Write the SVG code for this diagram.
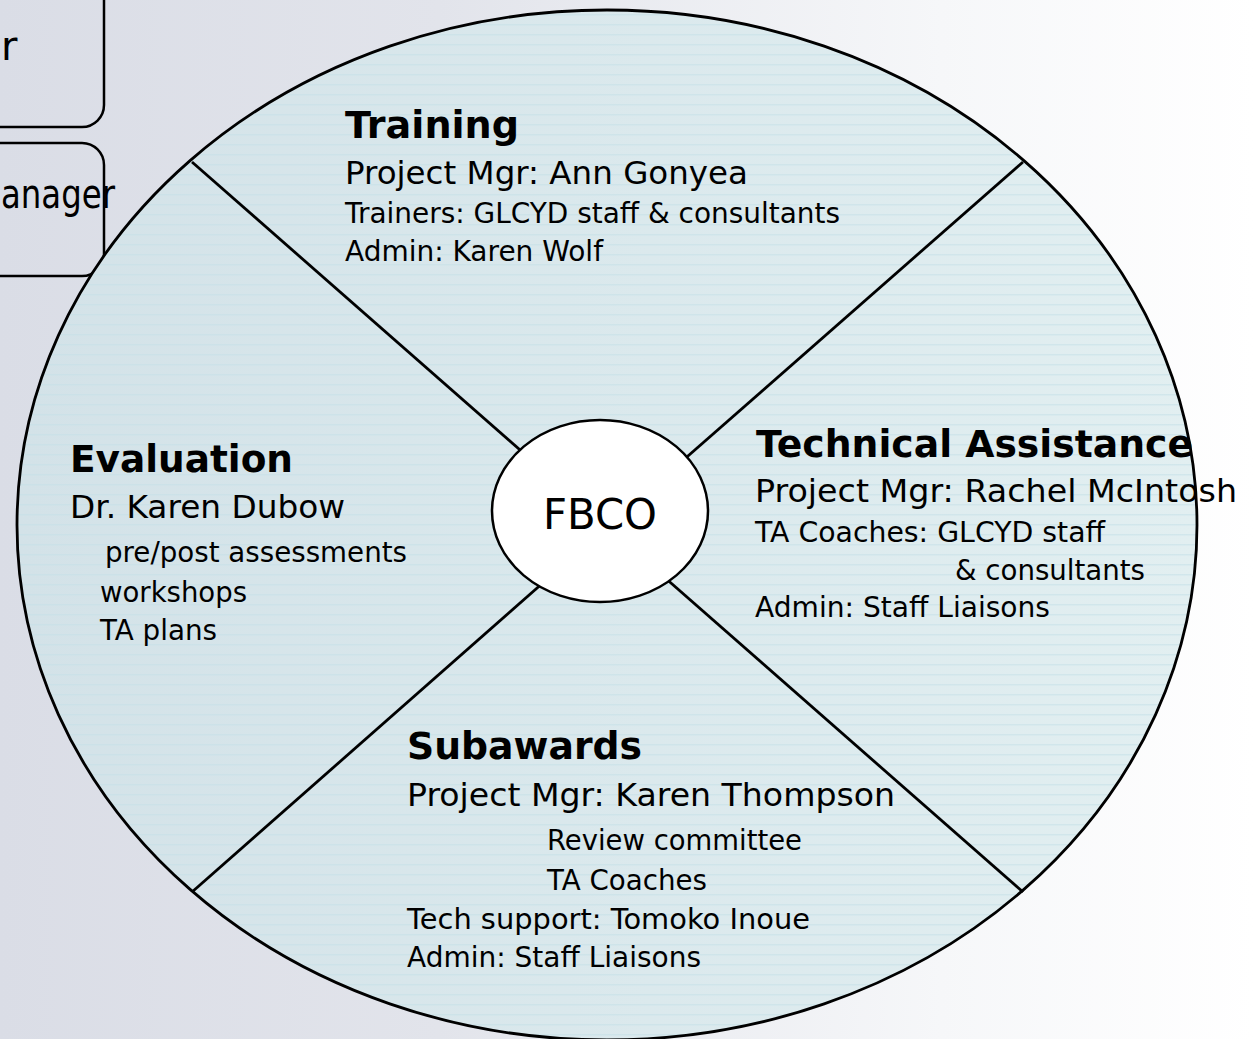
<svg xmlns="http://www.w3.org/2000/svg" width="1254" height="1039" viewBox="0 0 1254 1039">
  <defs>
    <linearGradient id="bg" x1="0" y1="0" x2="1" y2="0">
      <stop offset="0" stop-color="#dadde6"/>
      <stop offset="0.35" stop-color="#e2e4eb"/>
      <stop offset="0.75" stop-color="#f6f7f9"/>
      <stop offset="1" stop-color="#ffffff"/>
    </linearGradient>
    <linearGradient id="disc" x1="0" y1="0" x2="1" y2="0">
      <stop offset="0" stop-color="#d3e2e8"/>
      <stop offset="1" stop-color="#e2eff1"/>
    </linearGradient>
    <pattern id="stripes" x="0" y="0" width="20" height="10" patternUnits="userSpaceOnUse">
      <rect x="0" y="4" width="20" height="1.5" fill="#c4dfe6" fill-opacity="0.55"/>
    </pattern>
    <style>
      .t { font-family: "DejaVu Sans", "Liberation Sans", sans-serif; fill: #000; }
      .h { font-weight: bold; font-size: 37px; }
      .m { font-size: 32px; }
      .s { font-size: 27.5px; }
      .ln { stroke: #000; stroke-width: 2.8; fill: none; }
      .box { fill: none; stroke: #000; stroke-width: 2.5; }
    </style>
  </defs>

  <rect x="0" y="0" width="1254" height="1039" fill="url(#bg)"/>

  <g id="box-top">
    <rect class="box" x="-60" y="-40" width="164" height="167" rx="22" ry="22"/>
    <text class="t" x="1" y="60" font-size="40">r</text>
  </g>
  <g id="box-manager">
    <rect class="box" x="-60" y="143" width="164" height="133" rx="22" ry="22"/>
    <text class="t" x="1" y="208" font-size="40" textLength="114" lengthAdjust="spacingAndGlyphs">anager</text>
  </g>

  <g id="disc-outer">
    <ellipse cx="607" cy="525" rx="590" ry="515" fill="url(#disc)"/>
    <ellipse cx="607" cy="525" rx="590" ry="515" fill="url(#stripes)"/>
    <ellipse class="ln" cx="607" cy="525" rx="590" ry="515" stroke-width="3"/>
  </g>

  <g id="connectors">
    <line class="ln" x1="192" y1="162" x2="535" y2="463"/>
    <line class="ln" x1="1023" y1="162" x2="672" y2="470"/>
    <line class="ln" x1="192" y1="892" x2="553" y2="574"/>
    <line class="ln" x1="1023" y1="892" x2="655" y2="569"/>
  </g>

  <g id="fbco">
    <ellipse cx="600" cy="511" rx="108" ry="91" fill="#ffffff" stroke="#000" stroke-width="2.5"/>
    <text class="t" x="543" y="529" font-size="43" textLength="114" lengthAdjust="spacingAndGlyphs">FBCO</text>
  </g>

  <g id="training">
    <text class="t h" x="345" y="138" textLength="174" lengthAdjust="spacingAndGlyphs">Training</text>
    <text class="t m" x="345" y="184" textLength="403" lengthAdjust="spacingAndGlyphs">Project Mgr: Ann Gonyea</text>
    <text class="t s" x="345" y="223" textLength="495" lengthAdjust="spacingAndGlyphs">Trainers: GLCYD staff &amp; consultants</text>
    <text class="t s" x="345" y="261" textLength="258" lengthAdjust="spacingAndGlyphs">Admin: Karen Wolf</text>
  </g>

  <g id="evaluation">
    <text class="t h" x="70" y="472" textLength="223" lengthAdjust="spacingAndGlyphs">Evaluation</text>
    <text class="t m" x="70" y="518" textLength="275" lengthAdjust="spacingAndGlyphs">Dr. Karen Dubow</text>
    <text class="t s" x="105" y="562" textLength="302" lengthAdjust="spacingAndGlyphs">pre/post assessments</text>
    <text class="t s" x="100" y="602" textLength="147" lengthAdjust="spacingAndGlyphs">workshops</text>
    <text class="t s" x="100" y="640" textLength="117" lengthAdjust="spacingAndGlyphs">TA plans</text>
  </g>

  <g id="technical-assistance">
    <text class="t h" x="756" y="457" textLength="437" lengthAdjust="spacingAndGlyphs">Technical Assistance</text>
    <text class="t m" x="755" y="502" textLength="482" lengthAdjust="spacingAndGlyphs">Project Mgr: Rachel McIntosh</text>
    <text class="t s" x="755" y="542" textLength="350" lengthAdjust="spacingAndGlyphs">TA Coaches: GLCYD staff</text>
    <text class="t s" x="955" y="580" textLength="190" lengthAdjust="spacingAndGlyphs">&amp; consultants</text>
    <text class="t s" x="755" y="617" textLength="295" lengthAdjust="spacingAndGlyphs">Admin: Staff Liaisons</text>
  </g>

  <g id="subawards">
    <text class="t h" x="407" y="759" textLength="235" lengthAdjust="spacingAndGlyphs">Subawards</text>
    <text class="t m" x="407" y="806" textLength="488" lengthAdjust="spacingAndGlyphs">Project Mgr: Karen Thompson</text>
    <text class="t s" x="547" y="850" textLength="255" lengthAdjust="spacingAndGlyphs">Review committee</text>
    <text class="t s" x="547" y="890" textLength="160" lengthAdjust="spacingAndGlyphs">TA Coaches</text>
    <text class="t s" x="407" y="929" textLength="403" lengthAdjust="spacingAndGlyphs">Tech support: Tomoko Inoue</text>
    <text class="t s" x="407" y="967" textLength="294" lengthAdjust="spacingAndGlyphs">Admin: Staff Liaisons</text>
  </g>
</svg>
